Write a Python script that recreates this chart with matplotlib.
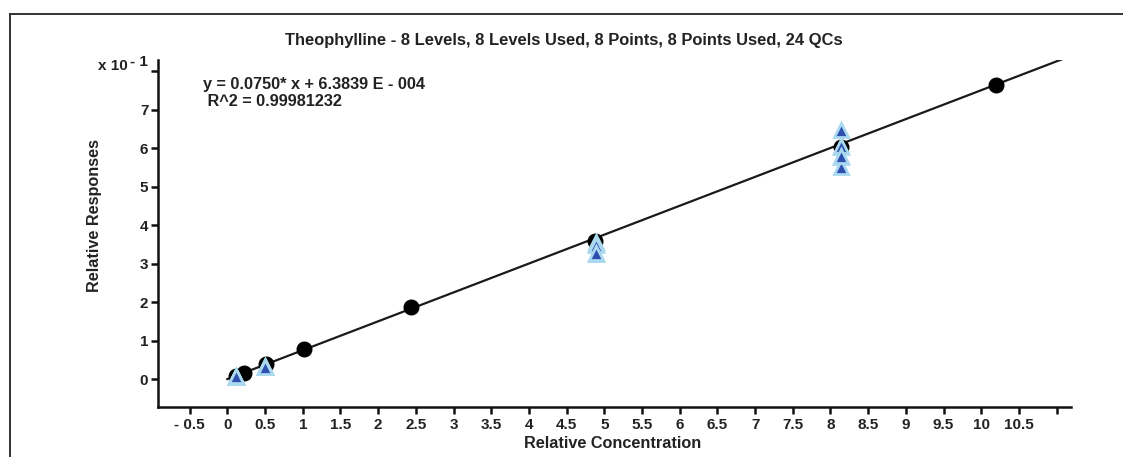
import matplotlib
matplotlib.use("Agg")
import matplotlib.pyplot as plt
import numpy as np

plt.rcParams['font.family'] = ['Liberation Sans', 'DejaVu Sans']

# ---- data ----
title = "Theophylline - 8 Levels, 8 Levels Used, 8 Points, 8 Points Used, 24 QCs"
equation = "y = 0.0750* x + 6.3839 E - 004"
r2_text = " R^2 = 0.99981232"
slope = 0.0750
intercept = 6.3839e-4
fit_x_range = [0.0, 11.08]

level_x = [0.12, 0.22, 0.51, 1.01, 2.44, 4.88, 8.14, 10.19]
level_y = [0.0085, 0.0155, 0.041, 0.080, 0.187, 0.360, 0.604, 0.764]

qc_x = [0.11] * 6 + [0.50] * 6 + [4.89] * 6 + [8.14] * 6
qc_y = [0.007, 0.007, 0.008, 0.006, 0.007, 0.008,
        0.033, 0.032, 0.034, 0.033, 0.032, 0.033,
        0.356, 0.352, 0.350, 0.326, 0.325, 0.327,
        0.648, 0.603, 0.578, 0.552, 0.605, 0.580]

x_ticks = [-0.5, 0, 0.5, 1, 1.5, 2, 2.5, 3, 3.5, 4, 4.5, 5, 5.5, 6, 6.5, 7,
           7.5, 8, 8.5, 9, 9.5, 10, 10.5, 11]
x_tick_labels = ["- 0.5", "0", "0.5", "1", "1.5", "2", "2.5", "3", "3.5", "4",
                 "4.5", "5", "5.5", "6", "6.5", "7", "7.5", "8", "8.5", "9",
                 "9.5", "10", "10.5", ""]
y_ticks = [0, 0.1, 0.2, 0.3, 0.4, 0.5, 0.6, 0.7, 0.8]
y_tick_labels = ["0", "1", "2", "3", "4", "5", "6", "7", ""]

W, H = 1123, 457
fig = plt.figure(figsize=(W / 100, H / 100), dpi=100)

def fx(px):
    return px / W

def fy(py):
    return 1 - py / H

TXT = '#222222'

# outer frame lines (partial border)
fig.add_artist(plt.Line2D([fx(9.5), 1.0], [fy(14), fy(14)], color='#333333', lw=1.4))
fig.add_artist(plt.Line2D([fx(9.5), fx(9.5)], [fy(14), 0.0], color='#333333', lw=1.4))

left, right, top, bottom = 158, 1071, 60, 406.7
ax = fig.add_axes([fx(left), fy(bottom), fx(right - left), (bottom - top) / H])
ax.set_xlim(-0.92, 11.19)
ax.set_ylim(-0.071, 0.829)

for s in ['top', 'right']:
    ax.spines[s].set_visible(False)
for s in ['left', 'bottom']:
    ax.spines[s].set_linewidth(1.8)
    ax.spines[s].set_color('#111111')

ax.set_xticks(x_ticks)
ax.set_xticklabels(x_tick_labels, fontweight='bold', fontsize=11, color=TXT)
ax.set_yticks(y_ticks)
ax.set_yticklabels(y_tick_labels, fontweight='bold', fontsize=11, color=TXT)
ax.tick_params(axis='both', direction='out', length=5, width=1.8, color='#111111')
ax.tick_params(axis='x', pad=3)
ax.tick_params(axis='y', pad=2)

# fit line
fx_line = np.array(fit_x_range)
ax.plot(fx_line, slope * fx_line + intercept, color='#1a1a1a', lw=1.6, zorder=2)

# calibration points
ax.plot(level_x, level_y, 'o', color='black', markersize=10.5, zorder=3)

# QC points
ax.plot(qc_x, qc_y, '^', markerfacecolor='#2f4fae', markeredgecolor='#a9d8ef',
        markeredgewidth=2.0, markersize=9.5, linestyle='none', zorder=4)

# multiplier label
fig.text(fx(128), fy(66), "x 10", ha='right', va='center', fontsize=11,
         fontweight='bold', color=TXT)
fig.text(fx(130), fy(62), "- 1", ha='left', va='center', fontsize=11,
         fontweight='bold', color=TXT)

# title and labels
fig.text(fx(564), fy(40), title, ha='center', va='center', fontsize=11.9,
         fontweight='bold', color=TXT)
fig.text(fx(613), fy(444), "Relative Concentration", ha='center', va='center',
         fontsize=11.7, fontweight='bold', color=TXT)
fig.text(fx(95), fy(215), "Relative Responses", ha='center', va='center',
         rotation=90, fontsize=11.7, fontweight='bold', color=TXT)

# equation
fig.text(fx(203), fy(85), equation, ha='left', va='center', fontsize=11.7,
         fontweight='bold', color=TXT)
fig.text(fx(203), fy(102), r2_text, ha='left', va='center', fontsize=11.7,
         fontweight='bold', color=TXT)

fig.savefig("out.png", dpi=100)
